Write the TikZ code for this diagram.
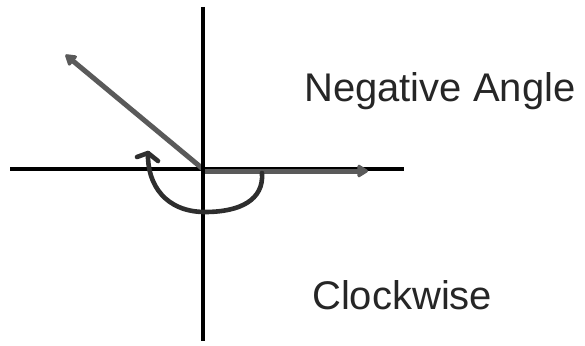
\documentclass[tikz,border=0pt]{standalone}
\usepackage{fontspec}
\setmainfont{Liberation Sans}
\usetikzlibrary{arrows.meta}
\definecolor{ray}{HTML}{5A5A5A}
\definecolor{arcc}{HTML}{2E2E2E}
\begin{document}
\begin{tikzpicture}[x=1pt,y=-1pt,
  axis/.style={black,line width=3.4pt},
  rayline/.style={ray,line width=5pt,-{Triangle[length=12pt,width=14pt,round]}},
  arcline/.style={arcc,line width=4.6pt,line cap=round,line join=round},
  lbl/.style={inner sep=0pt,anchor=base west,font=\fontsize{40}{40}\selectfont,text=black!85}]
\useasboundingbox (0,0) rectangle (585,345);
\coordinate (O) at (203,169);
\coordinate (xl) at (10,169);
\coordinate (xr) at (404,169);
\coordinate (yt) at (203,7);
\coordinate (yb) at (203,341);
\coordinate (P) at (366,171);
\coordinate (Q) at (67,56);
\coordinate (O2) at (203,171);
\draw[axis] (xl) -- (xr);
\draw[rayline,shorten >=-2pt] (O2) -- (P);
\draw[rayline,shorten >=-2pt] (O) -- (Q);
\draw[axis] (yt) -- (yb);
\coordinate (a0) at (262,173);
\coordinate (a1) at (205,212);
\coordinate (a2) at (148,153);
\coordinate (h1) at (137,157);
\coordinate (h2) at (158,161);
\draw[arcline] (a0) .. controls (264,200) and (240,212) .. (a1)
  .. controls (166,212) and (147,185) .. (a2);
\draw[arcline] (h1) -- (a2) -- (h2);
\node[lbl] (neg) at (304,101) {Negative Angle};
\node[lbl] (cw) at (312,309) {Clockwise};
\end{tikzpicture}
\end{document}
